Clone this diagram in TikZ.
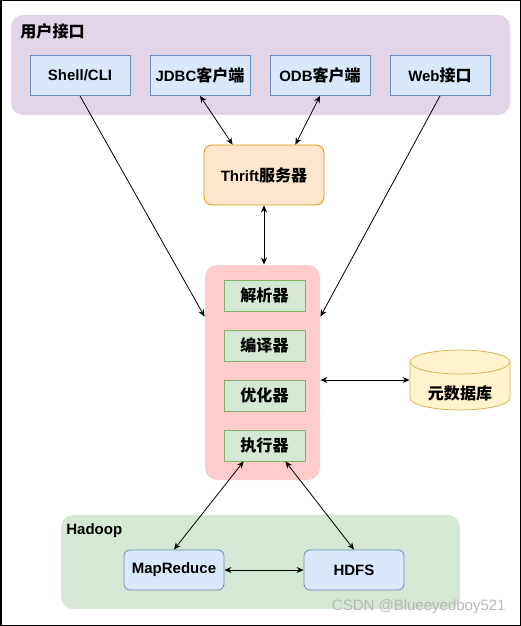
\documentclass[tikz,border=0pt]{standalone}
\usepackage{fontspec}
\setmainfont{Liberation Sans}
\newfontfamily\cjk[Scale=1.07]{Noto Sans CJK SC}
\usetikzlibrary{arrows.meta}
\definecolor{uipurple}{HTML}{E1D5E7}
\definecolor{fillblue}{HTML}{DAE8FC}
\definecolor{lineblue}{HTML}{6C8EBF}
\definecolor{fillorange}{HTML}{FFE6CC}
\definecolor{lineorange}{HTML}{D79B00}
\definecolor{corered}{HTML}{FFCCCC}
\definecolor{fillgreen}{HTML}{D5E8D4}
\definecolor{linegreen}{HTML}{82B366}
\definecolor{fillyellow}{HTML}{FFF2CC}
\definecolor{lineyellow}{HTML}{D6B656}
\newcommand\zh[1]{{\cjk #1}}

\begin{document}
\begin{tikzpicture}[x=1pt, y=-1pt, line width=0.8pt,
  every node/.style = {font=\fontsize{15}{18}\selectfont\bfseries, inner sep=0pt},
  group/.style = {shape=rectangle, rounded corners=12pt},
  blue box/.style = {shape=rectangle, draw=lineblue, fill=fillblue,
    minimum width=100pt, minimum height=40pt},
  green box/.style = {shape=rectangle, draw=linegreen, fill=fillgreen,
    minimum width=81pt, minimum height=31pt},
  link/.style = {{Stealth[length=7pt,width=6pt]}-{Stealth[length=7pt,width=6pt]}},
  one way/.style = {-{Stealth[length=7pt,width=6pt]}}]
  \useasboundingbox (0,0) rectangle (521,626);
  \draw[line width=1.5pt] (0.75,0.75) rectangle (520.25,625.25);

  \node[group, fill=uipurple, minimum width=499pt, minimum height=100pt] (ui) at (260.5,65) {};
  \node[anchor=west] (uilabel) at (20,31) {\zh{用户接口}};
  \node[blue box] (shell) at (80,75.5) {Shell/CLI};
  \node[blue box] (jdbc) at (200,75.5) {JDBC\zh{客户端}};
  \node[blue box] (odb) at (320,75.5) {ODB\zh{客户端}};
  \node[blue box] (web) at (440,75.5) {Web\zh{接口}};

  \node[shape=rectangle, rounded corners=8pt, draw=lineorange, fill=fillorange,
    minimum width=120pt, minimum height=60pt] (thrift) at (264,175) {Thrift\zh{服务器}};

  \node[group, fill=corered, minimum width=115pt, minimum height=215pt] (core) at (262.5,372.5) {};
  \node[green box] (parser) at (264.5,295.5) {\zh{解析器}};
  \node[green box] (compiler) at (264.5,345.5) {\zh{编译器}};
  \node[green box] (optimizer) at (264.5,395.5) {\zh{优化器}};
  \node[green box] (executor) at (264.5,445.5) {\zh{执行器}};

  \node[minimum width=100pt, minimum height=60pt] (meta) at (460,380) {};
  \filldraw[draw=lineyellow, fill=fillyellow] (410,362) -- (410,398)
    arc[start angle=180, end angle=0, x radius=50, y radius=12] -- (510,362)
    arc[start angle=0, end angle=-180, x radius=50, y radius=12] -- cycle;
  \draw[lineyellow] (410,362) arc[start angle=180, end angle=0, x radius=50, y radius=12];
  \node (metalabel) at (460,393) {\zh{元数据库}};

  \node[group, fill=fillgreen, minimum width=399pt, minimum height=94pt] (hadoop) at (260.5,562) {};
  \node[anchor=west] (hadooplabel) at (66,531) {Hadoop};
  \node[blue box, rounded corners=6pt] (mapreduce) at (174,570) {MapReduce};
  \node[blue box, rounded corners=6pt] (hdfs) at (354,570) {HDFS};

  \draw[link] (jdbc.south) -- ([xshift=29pt]thrift.north west);
  \draw[link] (odb.south) -- ([xshift=-29pt]thrift.north east);
  \draw[link] (thrift.south) -- (thrift.south |- core.north);
  \draw[one way] (shell.south) -- ([yshift=-52pt]core.north west);
  \draw[one way] (web.south) -- ([yshift=-52pt]core.north east);
  \draw[link] (core.east |- meta.west) -- (meta.west);
  \draw[link] ([xshift=20pt]executor.south west) -- (mapreduce.north);
  \draw[link] ([xshift=-20pt]executor.south east) -- (hdfs.north);
  \draw[link] (mapreduce.east) -- (hdfs.west);

  \node[anchor=east, text=gray!55, font=\fontsize{15}{18}\selectfont] (mark) at (506,607) {CSDN @Blueeyedboy521};
\end{tikzpicture}
\end{document}
